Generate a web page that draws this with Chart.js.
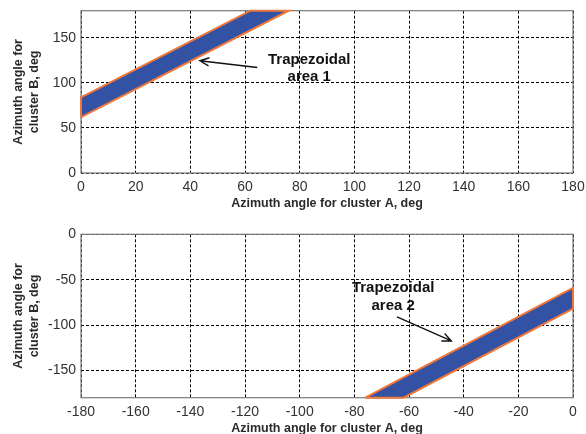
<!DOCTYPE html>
<html>
<head>
<meta charset="utf-8">
<script src="https://cdn.jsdelivr.net/npm/chart.js@4.4.0/dist/chart.umd.min.js"></script>
<style>
  html, body { margin: 0; padding: 0; background: #fff; }
  #wrap { position: relative; width: 586px; height: 434px; overflow: hidden; }
  canvas { position: absolute; left: 0; }
  #c1 { top: 0; }
  #c2 { top: 215px; }
</style>
</head>
<body>
<div id="wrap">
  <canvas id="c1" width="586" height="215"></canvas>
  <canvas id="c2" width="586" height="219"></canvas>
</div>
<script>
// ---- data ----
const xTitle = 'Azimuth angle for cluster A, deg';
const yTitle = ['Azimuth angle for', 'cluster B, deg'];

const topXTicks = [0, 20, 40, 60, 80, 100, 120, 140, 160, 180];
const topYTicks = [0, 50, 100, 150];
const botXTicks = [-180, -160, -140, -120, -100, -80, -60, -40, -20, 0];
const botYTicks = [-150, -100, -50, 0];

// trapezoid vertices (closed polygons)
const area1X = [0, 0, 62, 76, 0];
const area1Y = [62, 84, 180, 180, 62];
const area2X = [-76, 0, 0, -62, -76];
const area2Y = [-180, -59, -82, -180, -180];

// annotation labels and arrows (data coordinates)
const label1 = ['Trapezoidal', 'area 1'];
const label1X = 83.5, label1Y = [126, 107];
const arrow1From = [64.5, 117], arrow1To = [43.5, 124.5];
const label2 = ['Trapezoidal', 'area 2'];
const label2X = -65.8, label2Y = [-58.8, -78.5];
const arrow2From = [-64.4, -91], arrow2To = [-44.5, -117.5];

// ---- helpers ----
const FONT = '"Liberation Sans", Arial, Helvetica, sans-serif';
const toPts = (xs, ys) => xs.map((x, i) => ({ x: x, y: ys[i] }));

function frameAndText(label, lx, ly, aFrom, aTo) {
  return {
    id: 'frameText',
    beforeDatasetsDraw(chart) {
      const { ctx, chartArea: a } = chart;
      ctx.save();
      ctx.strokeStyle = '#7a7a7a';
      ctx.lineWidth = 1.2;
      ctx.setLineDash([]);
      ctx.strokeRect(a.left, a.top, a.right - a.left, a.bottom - a.top);
      ctx.restore();
    },
    afterDraw(chart) {
      const { ctx, chartArea: a, scales: { x, y } } = chart;
      ctx.save();
      // x title
      ctx.fillStyle = '#2a2a2a';
      ctx.font = 'bold 12.5px ' + FONT;
      ctx.textAlign = 'center';
      ctx.textBaseline = 'middle';
      ctx.fillText(xTitle, (a.left + a.right) / 2, a.bottom + 31);
      // y title
      const cy = (a.top + a.bottom) / 2;
      ctx.save();
      ctx.translate(19, cy);
      ctx.rotate(-Math.PI / 2);
      ctx.fillText(yTitle[0], 0, 0);
      ctx.fillText(yTitle[1], 0, 15.5);
      ctx.restore();
      // annotation text
      ctx.fillStyle = '#111';
      ctx.font = 'bold 15px ' + FONT;
      label.forEach((t, i) => {
        ctx.fillText(t, x.getPixelForValue(lx), y.getPixelForValue(ly[i]));
      });
      // arrow
      const x0 = x.getPixelForValue(aFrom[0]), y0 = y.getPixelForValue(aFrom[1]);
      const x1 = x.getPixelForValue(aTo[0]), y1 = y.getPixelForValue(aTo[1]);
      ctx.strokeStyle = '#111';
      ctx.lineWidth = 1.4;
      ctx.beginPath();
      ctx.moveTo(x0, y0);
      ctx.lineTo(x1, y1);
      const ang = Math.atan2(y1 - y0, x1 - x0);
      const hl = 10, ha = 0.42;
      ctx.moveTo(x1 - hl * Math.cos(ang - ha), y1 - hl * Math.sin(ang - ha));
      ctx.lineTo(x1, y1);
      ctx.lineTo(x1 - hl * Math.cos(ang + ha), y1 - hl * Math.sin(ang + ha));
      ctx.stroke();
      ctx.restore();
    }
  };
}

function zeroPad(s) {
  s.paddingTop = 0; s.paddingBottom = 0; s.paddingLeft = 0; s.paddingRight = 0;
}

function makeChart(id, xs, ys, xTicks, yTicks, xmin, xmax, ymin, ymax, padTop, xH, plug) {
  const gridOpts = {
    color: '#000',
    lineWidth: 1,
    drawTicks: true,
    tickLength: 6,
    tickColor: 'rgba(0,0,0,0)'
  };
  const gridOptsY = Object.assign({}, gridOpts, { tickLength: 5 });
  return new Chart(document.getElementById(id), {
    type: 'line',
    data: {
      datasets: [{
        data: toPts(xs, ys),
        fill: 'shape',
        backgroundColor: '#3352a3',
        borderColor: '#f0773a',
        borderWidth: 2,
        pointRadius: 0,
        tension: 0,
        clip: 2
      }]
    },
    options: {
      responsive: false,
      animation: false,
      devicePixelRatio: 1,
      layout: { padding: { top: padTop, right: 13, left: 0, bottom: 0 } },
      plugins: { legend: { display: false }, tooltip: { enabled: false } },
      scales: {
        x: {
          type: 'linear', min: xmin, max: xmax,
          afterBuildTicks: s => { s.ticks = xTicks.map(v => ({ value: v })); },
          afterFit: s => { s.height = xH; zeroPad(s); },
          grid: gridOpts,
          border: { display: false, dash: [3, 2] },
          ticks: { padding: 0, color: '#333', font: { family: FONT, size: 14 }, maxRotation: 0 }
        },
        y: {
          type: 'linear', min: ymin, max: ymax,
          afterBuildTicks: s => { s.ticks = yTicks.map(v => ({ value: v })); },
          afterFit: s => { s.width = 81; zeroPad(s); },
          grid: gridOptsY,
          border: { display: false, dash: [3, 2] },
          ticks: { padding: 0, color: '#333', font: { family: FONT, size: 14 } }
        }
      }
    },
    plugins: [plug]
  });
}

makeChart('c1', area1X, area1Y, topXTicks, topYTicks, 0, 180, 0, 180, 10.7, 42,
  frameAndText(label1, label1X, label1Y, arrow1From, arrow1To));
makeChart('c2', area2X, area2Y, botXTicks, botYTicks, -180, 0, -180, 0, 19.3, 36.3,
  frameAndText(label2, label2X, label2Y, arrow2From, arrow2To));
</script>
</body>
</html>
